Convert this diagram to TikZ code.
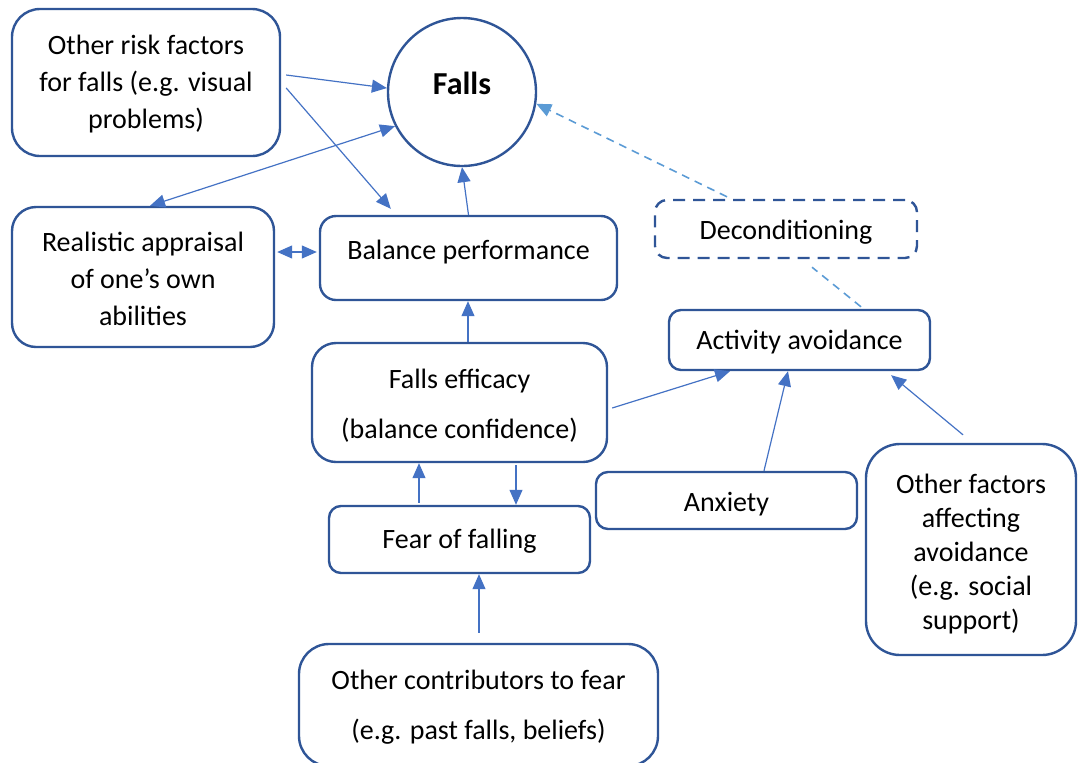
\documentclass[tikz,border=0pt]{standalone}
\usepackage{fontspec}
\setmainfont{Carlito}
\usetikzlibrary{arrows.meta,calc}
\definecolor{boxc}{HTML}{2F5597}
\definecolor{arrc}{HTML}{4472C4}
\definecolor{dashc}{HTML}{5B9BD5}
\begin{document}
\begin{tikzpicture}[x=0.5pt,y=-0.5pt,
  box/.style={draw=boxc, line width=1.2pt, rounded corners=#1, inner sep=0pt, fill=white},
  box/.default=10pt,
  txt/.style={align=center, inner sep=0pt, font=\fontsize{14}{18.5}\selectfont},
  tip/.style={Triangle[length=7.5pt,width=6.5pt]},
  conn/.style={draw=arrc, line width=0.6pt, -{Triangle[length=7.5pt,width=6.5pt]}},
  conn2/.style={draw=arrc, line width=0.6pt, {Triangle[length=7.5pt,width=6.5pt]}-{Triangle[length=7.5pt,width=6.5pt]}},
  dconn/.style={draw=dashc, line width=0.8pt, dash pattern=on 4pt off 3pt, -{Triangle[length=7.5pt,width=6.5pt]}},
  dline/.style={draw=dashc, line width=0.8pt, dash pattern=on 4pt off 3pt}]
\useasboundingbox (0,0) rectangle (1078,762);
\clip (0,0) rectangle (1078,762);

% nodes
\node[box=14pt, minimum width=134pt, minimum height=73.5pt,
  label={[txt, yshift=-1pt]center:{Other risk factors\\for falls (e.g. visual\\problems)}}] (risk) at (146,82.5) {};
\node[draw=boxc, line width=1.2pt, circle, minimum size=74pt, inner sep=0pt, text depth=9pt,
  font=\fontsize{16}{19}\selectfont\bfseries] (falls) at (462,92) {Falls};
\node[box=12pt, minimum width=131pt, minimum height=70pt,
  label={[txt, yshift=-1pt]center:{Realistic appraisal\\of one’s own\\abilities}}] (real) at (143,277) {};
\node[box=8pt, minimum width=148.5pt, minimum height=42pt,
  label={[txt, yshift=3pt]center:{Balance performance}}] (bal) at (468.5,258) {};
\node[box=6pt, minimum width=131pt, minimum height=29pt, dash pattern=on 6pt off 4pt,
  label={[txt, yshift=-1.5pt]center:{Deconditioning}}] (decon) at (786,229) {};
\node[box=6pt, minimum width=130.5pt, minimum height=30pt,
  label={[txt, yshift=-1pt]center:{Activity avoidance}}] (act) at (799.5,340) {};
\node[box=12pt, minimum width=147.5pt, minimum height=59.5pt,
  label={[txt, yshift=-1.5pt, font=\fontsize{14}{25}\selectfont]center:{Falls efficacy\\(balance confidence)}}] (eff) at (459.5,402.5) {};
\node[box=6pt, minimum width=130.5pt, minimum height=33.5pt,
  label={[txt, yshift=-1pt]center:{Fear of falling}}] (fear) at (459.5,539.5) {};
\node[box=6pt, minimum width=130.5pt, minimum height=28.5pt,
  label={[txt, yshift=-2pt]center:{Anxiety}}] (anx) at (726.5,500.5) {};
\node[box=17pt, minimum width=105pt, minimum height=105.5pt,
  label={[txt, yshift=-2.5pt, font=\fontsize{14}{17}\selectfont]center:{Other factors\\affecting\\avoidance\\(e.g. social\\support)}}] (oth) at (971,549.5) {};
\node[box=15pt, minimum width=179.5pt, minimum height=61pt,
  label={[txt, yshift=-1pt, font=\fontsize{14}{25}\selectfont]center:{Other contributors to fear\\(e.g. past falls, beliefs)}}] (contrib) at (478.5,705) {};

% connectors
\draw[conn] ($(risk.east)+(5,-7.5)$) -- (falls.177);
\draw[conn] ($(risk.east)+(5,5.5)$) -- ($(bal.north west)+(72,-6)$);
\draw[conn2] ($(real.north)+(7,0)$) -- (falls.207);
\draw[conn2] ($(real.east)+(2,-25)$) -- ($(bal.west)+(-2,-6)$);
\draw[conn] (bal.north) -- (falls.south);
\draw[conn] ($(eff.north)+(8.5,0)$) -- ($(bal.south)+(-0.5,0)$);
\draw[conn] ($(eff.east)+(4,5.5)$) -- ($(act.south)+(-69.5,0)$);
\draw[conn] ($(anx.north)+(37.5,0)$) -- ($(act.south)+(-11.5,0)$);
\draw[conn] ($(oth.north)+(-8,-8)$) -- ($(act.south east)+(-40,4)$);
\draw[conn] ($(fear.north)+(-40.5,-2)$) -- ($(eff.south)+(-40.5,0)$);
\draw[conn] ($(eff.south)+(56.5,2)$) -- ($(fear.north)+(56.5,0)$);
\draw[conn] ($(contrib.north)+(0.5,-10)$) -- ($(fear.south)+(19.5,0)$);
\draw[dconn] ($(decon.north)+(-59,-2)$) -- (falls.351);
\draw[dline] ($(act.north)+(61.5,-2)$) -- ($(decon.south)+(26,8)$);
\end{tikzpicture}
\end{document}
